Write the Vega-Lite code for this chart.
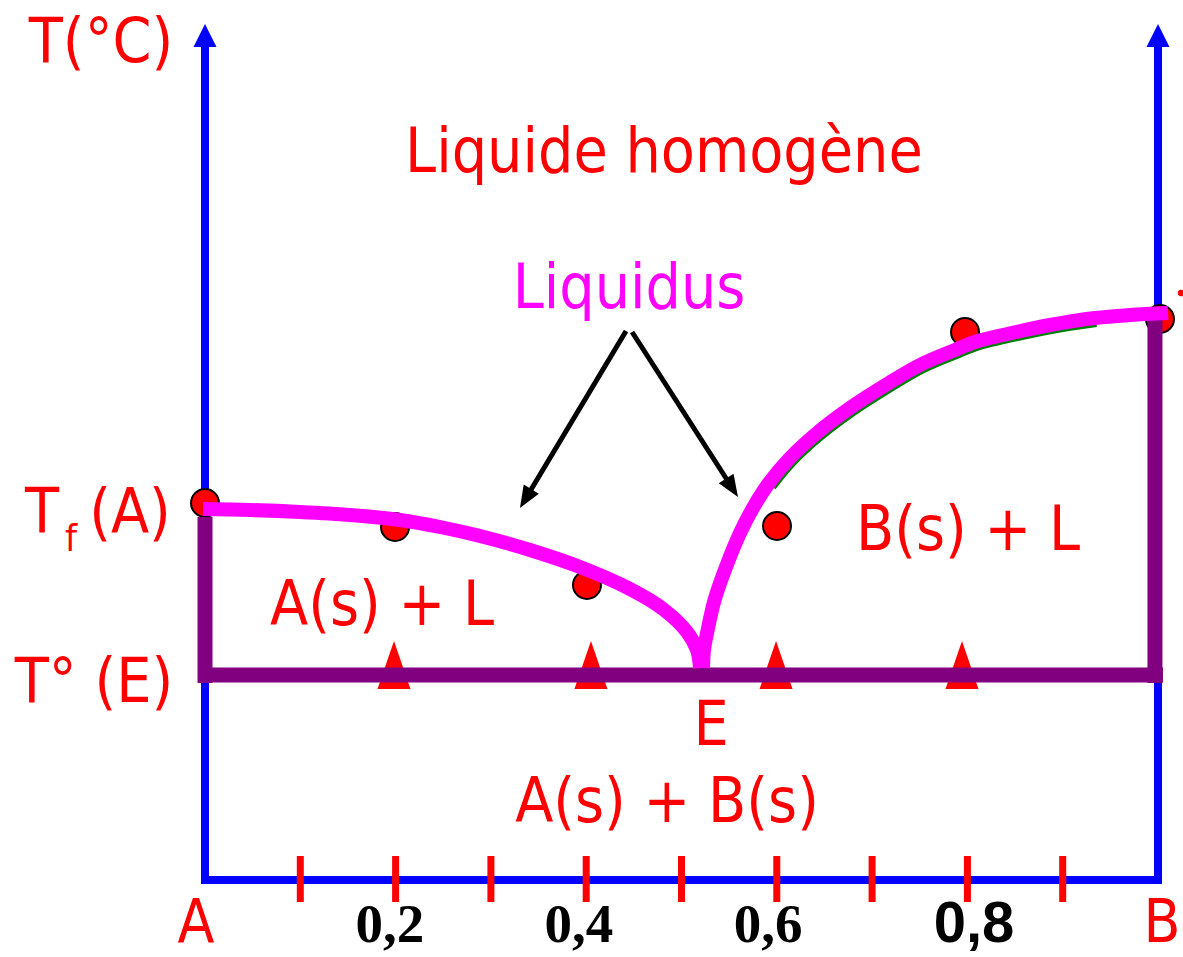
{
  "$schema": "https://vega.github.io/schema/vega-lite/v6.json",
  "width": 1183,
  "height": 957,
  "autosize": {"type": "none"},
  "padding": 0,
  "background": "white",
  "config": {"view": {"stroke": null}},
  "encoding": {
    "x": {"field": "x", "type": "quantitative", "scale": {"domain": [-0.21511, 1.02623], "nice": false, "zero": false}, "axis": null},
    "y": {"field": "y", "type": "quantitative", "scale": {"domain": [-77, 880], "nice": false, "zero": false}, "axis": null}
  },
  "layer": [
    {
      "data": {"values": [
        {"x": 0, "y": 0, "x2": 0, "y2": 833},
        {"x": 1, "y": 0, "x2": 1, "y2": 833},
        {"x": 0, "y": 0, "x2": 1, "y2": 0}
      ]},
      "mark": {"type": "rule", "color": "#0000FF", "strokeWidth": 8, "strokeCap": "square"},
      "encoding": {"x2": {"field": "x2"}, "y2": {"field": "y2"}}
    },
    {
      "data": {"values": [{"x": 0, "y": 856}, {"x": 1, "y": 856}]},
      "mark": {"type": "point", "shape": "M0,0 L-1,2 L1,2 Z", "size": 529, "filled": true, "color": "#0000FF", "opacity": 1, "strokeWidth": 0}
    },
    {
      "data": {"values": [
        {"x": 0.1, "y": -22, "x2": 0.1, "y2": 24},
        {"x": 0.2, "y": -22, "x2": 0.2, "y2": 24},
        {"x": 0.3, "y": -22, "x2": 0.3, "y2": 24},
        {"x": 0.4, "y": -22, "x2": 0.4, "y2": 24},
        {"x": 0.5, "y": -22, "x2": 0.5, "y2": 24},
        {"x": 0.6, "y": -22, "x2": 0.6, "y2": 24},
        {"x": 0.7, "y": -22, "x2": 0.7, "y2": 24},
        {"x": 0.8, "y": -22, "x2": 0.8, "y2": 24},
        {"x": 0.9, "y": -22, "x2": 0.9, "y2": 24}
      ]},
      "mark": {"type": "rule", "color": "#FF0000", "strokeWidth": 7},
      "encoding": {"x2": {"field": "x2"}, "y2": {"field": "y2"}}
    },
    {
      "data": {"values": [
        {"x": 0, "y": 377},
        {"x": 0.1994, "y": 353},
        {"x": 0.4008, "y": 295},
        {"x": 0.6002, "y": 354},
        {"x": 0.7975, "y": 548},
        {"x": 1.0021, "y": 561}
      ]},
      "mark": {"type": "point", "shape": "circle", "size": 784, "filled": true, "fill": "#FF0000", "stroke": "#000000", "strokeWidth": 2, "opacity": 1}
    },
    {
      "data": {"values": [{"x": 1.0241, "y": 587}]},
      "mark": {"type": "point", "shape": "circle", "size": 40, "filled": true, "color": "#FF0000", "opacity": 1}
    },
    {
      "data": {"values": [
        {"x": 0.1983, "y": 215},
        {"x": 0.4050, "y": 215},
        {"x": 0.5992, "y": 215},
        {"x": 0.7943, "y": 215}
      ]},
      "mark": {"type": "point", "shape": "M0,-1 L-0.6875,1 L0.6875,1 Z", "size": 2304, "filled": true, "color": "#FF0000", "opacity": 1, "strokeWidth": 0}
    },
    {
      "data": {"values": [
        {"x": 0, "y": 205, "x2": 1.0052, "y2": 205},
        {"x": 0, "y": 197, "x2": 0, "y2": 363},
        {"x": 0.9968, "y": 197, "x2": 0.9968, "y2": 568}
      ]},
      "mark": {"type": "rule", "color": "#800080", "strokeWidth": 15},
      "encoding": {"x2": {"field": "x2"}, "y2": {"field": "y2"}}
    },
    {
      "data": {"values": [
        {"x": 0.5918, "y": 397},
        {"x": 0.6138, "y": 422},
        {"x": 0.6422, "y": 447},
        {"x": 0.6768, "y": 472},
        {"x": 0.7177, "y": 497},
        {"x": 0.7503, "y": 515},
        {"x": 0.7870, "y": 530},
        {"x": 0.8080, "y": 538},
        {"x": 0.8374, "y": 545},
        {"x": 0.8867, "y": 555},
        {"x": 0.9339, "y": 562}
      ]},
      "mark": {"type": "line", "color": "#008000", "strokeWidth": 14, "yOffset": 2, "xOffset": 1, "interpolate": "catmull-rom"}
    },
    {
      "data": {"values": [
        {"c": "left", "x": -0.0021, "y": 371},
        {"c": "left", "x": 0.0472, "y": 370},
        {"c": "left", "x": 0.0997, "y": 368},
        {"c": "left", "x": 0.1522, "y": 365},
        {"c": "left", "x": 0.2046, "y": 360},
        {"c": "left", "x": 0.2466, "y": 353},
        {"c": "left", "x": 0.2886, "y": 344},
        {"c": "left", "x": 0.3410, "y": 330},
        {"c": "left", "x": 0.3935, "y": 313},
        {"c": "left", "x": 0.4460, "y": 291},
        {"c": "left", "x": 0.4806, "y": 271},
        {"c": "left", "x": 0.5058, "y": 248},
        {"c": "left", "x": 0.5163, "y": 230},
        {"c": "left", "x": 0.5194, "y": 212},
        {"c": "right", "x": 0.5226, "y": 212},
        {"c": "right", "x": 0.5236, "y": 230},
        {"c": "right", "x": 0.5268, "y": 247},
        {"c": "right", "x": 0.5347, "y": 280},
        {"c": "right", "x": 0.5467, "y": 313},
        {"c": "right", "x": 0.5614, "y": 347},
        {"c": "right", "x": 0.5750, "y": 372},
        {"c": "right", "x": 0.5918, "y": 397},
        {"c": "right", "x": 0.6138, "y": 422},
        {"c": "right", "x": 0.6422, "y": 447},
        {"c": "right", "x": 0.6768, "y": 472},
        {"c": "right", "x": 0.7177, "y": 497},
        {"c": "right", "x": 0.7503, "y": 515},
        {"c": "right", "x": 0.7870, "y": 530},
        {"c": "right", "x": 0.8080, "y": 538},
        {"c": "right", "x": 0.8374, "y": 545},
        {"c": "right", "x": 0.8867, "y": 555},
        {"c": "right", "x": 0.9339, "y": 562},
        {"c": "right", "x": 0.9706, "y": 565},
        {"c": "right", "x": 1.0105, "y": 567}
      ]},
      "mark": {"type": "line", "color": "#FF00FF", "strokeWidth": 14, "strokeCap": "butt", "strokeJoin": "round", "interpolate": "catmull-rom"},
      "encoding": {"detail": {"field": "c"}}
    },
    {
      "data": {"values": [
        {"x": 0.4418, "y": 549, "x2": 0.3392, "y2": 385.7},
        {"x": 0.4481, "y": 548, "x2": 0.5503, "y2": 396.5}
      ]},
      "mark": {"type": "rule", "color": "#000000", "strokeWidth": 5},
      "encoding": {"x2": {"field": "x2"}, "y2": {"field": "y2"}}
    },
    {
      "data": {"values": [{"x": 0.3305, "y": 372}]},
      "mark": {"type": "point", "shape": "M0,0 L-0.8,2 L0.8,2 Z", "size": 484, "angle": 210.9, "filled": true, "color": "#000000", "opacity": 1, "strokeWidth": 0}
    },
    {
      "data": {"values": [{"x": 0.5593, "y": 383}]},
      "mark": {"type": "point", "shape": "M0,0 L-0.8,2 L0.8,2 Z", "size": 484, "angle": 147.3, "filled": true, "color": "#000000", "opacity": 1, "strokeWidth": 0}
    },
    {
      "data": {"values": [
        {"t": "T(°C)", "x": -0.1091, "y": 818},
        {"t": "Liquide homogène", "x": 0.4816, "y": 708},
        {"t": "T", "x": -0.1710, "y": 348},
        {"t": "(A)", "x": -0.0787, "y": 347},
        {"t": "T° (E)", "x": -0.1165, "y": 178},
        {"t": "A(s) + L", "x": 0.1857, "y": 255},
        {"t": "B(s) + L", "x": 0.8006, "y": 330},
        {"t": "E", "x": 0.5310, "y": 135},
        {"t": "A(s) + B(s)", "x": 0.4848, "y": 58}
      ]},
      "mark": {"type": "text", "align": "center", "baseline": "alphabetic", "font": "DejaVu Sans Condensed, DejaVu Sans", "fontSize": 62, "color": "#FF0000"},
      "encoding": {"text": {"field": "t"}}
    },
    {
      "data": {"values": [
        {"t": "A", "x": -0.0094, "y": -62},
        {"t": "B", "x": 1.0042, "y": -62}
      ]},
      "mark": {"type": "text", "align": "center", "baseline": "alphabetic", "font": "DejaVu Sans Condensed, DejaVu Sans", "fontSize": 60, "color": "#FF0000"},
      "encoding": {"text": {"field": "t"}}
    },
    {
      "data": {"values": [{"t": "f", "x": -0.1406, "y": 329}]},
      "mark": {"type": "text", "align": "center", "baseline": "alphabetic", "font": "DejaVu Sans Condensed, DejaVu Sans", "fontSize": 38, "color": "#FF0000"},
      "encoding": {"text": {"field": "t"}}
    },
    {
      "data": {"values": [{"t": "Liquidus", "x": 0.4449, "y": 572}]},
      "mark": {"type": "text", "align": "center", "baseline": "alphabetic", "font": "DejaVu Sans Condensed, DejaVu Sans", "fontSize": 62, "color": "#FF00FF"},
      "encoding": {"text": {"field": "t"}}
    },
    {
      "data": {"values": [
        {"t": "0,2", "x": 0.1941, "y": -62},
        {"t": "0,4", "x": 0.3924, "y": -62},
        {"t": "0,6", "x": 0.5908, "y": -62}
      ]},
      "mark": {"type": "text", "align": "center", "baseline": "alphabetic", "font": "Liberation Serif", "fontWeight": "bold", "fontSize": 55, "color": "#000000"},
      "encoding": {"text": {"field": "t"}}
    },
    {
      "data": {"values": [{"t": "0,8", "x": 0.8069, "y": -62}]},
      "mark": {"type": "text", "align": "center", "baseline": "alphabetic", "font": "Liberation Sans", "fontWeight": "bold", "fontSize": 58, "color": "#000000"},
      "encoding": {"text": {"field": "t"}}
    }
  ]
}
